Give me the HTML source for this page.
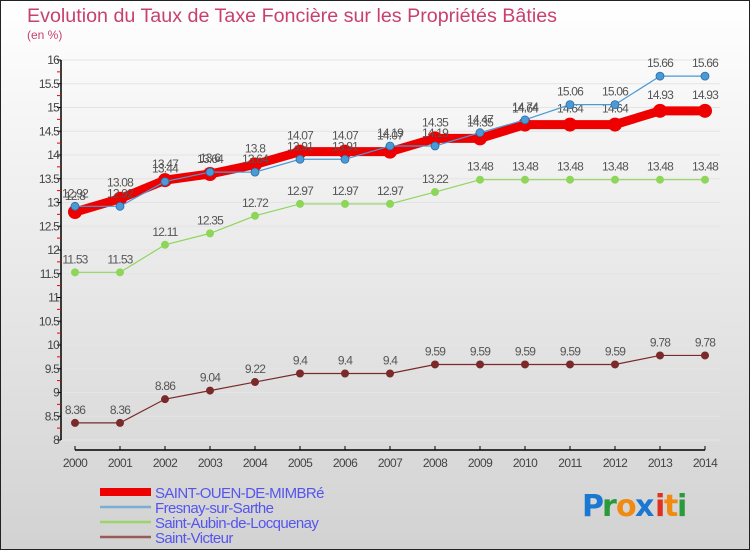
<!DOCTYPE html>
<html><head><meta charset="utf-8"><style>
html,body{margin:0;padding:0}
body{width:750px;height:550px;overflow:hidden;font-family:"Liberation Sans",sans-serif}
</style></head><body>
<svg id="chart" width="750" height="550" xmlns="http://www.w3.org/2000/svg">
<defs><linearGradient id="bg" x1="0" y1="0" x2="0" y2="1"><stop offset="0" stop-color="#ffffff"/><stop offset="1" stop-color="#d2d2d2"/></linearGradient></defs>
<rect x="0.5" y="0.5" width="749" height="549" fill="url(#bg)" stroke="#222" stroke-width="1"/>
<text x="27" y="22" font-size="19" fill="#c8416e" textLength="530" lengthAdjust="spacingAndGlyphs">Evolution du Taux de Taxe Foncière sur les Propriétés Bâties</text>
<text x="27" y="39" font-size="12" fill="#c8416e">(en %)</text>
<g id="axes"></g>
<g id="series"></g>
<g id="legend"></g>
<g font-size="30" font-weight="bold" font-family="'DejaVu Sans',sans-serif">
<text x="582" y="516" fill="#1a78d2">P</text><text x="602" y="516" fill="#2a9a3a">r</text><text x="616" y="516" fill="#f08a10">o</text><text x="635" y="516" fill="#1a78d2">x</text><text x="655" y="516" fill="#e03020">i</text><text x="664" y="516" fill="#f08a10">t</text><text x="677" y="516" fill="#2a9a3a">i</text>
</g>
</svg>
<script>
const years=[2000,2001,2002,2003,2004,2005,2006,2007,2008,2009,2010,2011,2012,2013,2014];
const yTicks=[8,8.5,9,9.5,10,10.5,11,11.5,12,12.5,13,13.5,14,14.5,15,15.5,16];
const seriesNames=["SAINT-OUEN-DE-MIMBRé","Fresnay-sur-Sarthe","Saint-Aubin-de-Locquenay","Saint-Victeur"];
const saintOuen=[12.8,13.08,13.47,13.6,13.8,14.07,14.07,14.07,14.35,14.35,14.64,14.64,14.64,14.93,14.93];
const fresnay=[12.92,12.92,13.44,13.64,13.64,13.91,13.91,14.19,14.19,14.47,14.74,15.06,15.06,15.66,15.66];
const saintAubin=[11.53,11.53,12.11,12.35,12.72,12.97,12.97,12.97,13.22,13.48,13.48,13.48,13.48,13.48,13.48];
const saintVicteur=[8.36,8.36,8.86,9.04,9.22,9.4,9.4,9.4,9.59,9.59,9.59,9.59,9.59,9.78,9.78];

const NS="http://www.w3.org/2000/svg";
function xs(i){return 75+i*45;}
function ys(v){return 440-(v-8)*47.5;}
function mk(tag,attrs,parent){const e=document.createElementNS(NS,tag);for(const k in attrs)e.setAttribute(k,attrs[k]);parent.appendChild(e);return e;}
const axes=document.getElementById('axes');
// grid
yTicks.forEach(v=>{
  const g=mk('line',{x1:61,x2:720,y1:ys(v),y2:ys(v),stroke:'#e4e4e4','stroke-width':1},axes);
  
  
});
const ya=mk('line',{x1:61,x2:61,y1:ys(16),y2:ys(8),stroke:'#000','stroke-width':1.5},axes);


yTicks.forEach(v=>{
  mk('line',{x1:57,x2:61,y1:ys(v),y2:ys(v),stroke:'#000'},axes);
  mk('line',{x1:57,x2:61,y1:ys(v)-11.9,y2:ys(v)-11.9,stroke:v<16?'#e00':'none'},axes);
  const t=mk('text',{x:59,y:ys(v)+4,'font-size':12,fill:'#444','text-anchor':'end','letter-spacing':'-0.8'},axes);
  
  
  t.textContent=String(v);
});
const xa=mk('line',{x1:75,x2:705,y1:450,y2:450,stroke:'#000','stroke-width':1.5},axes);


years.forEach((y,i)=>{
  mk('line',{x1:xs(i),x2:xs(i),y1:446,y2:450,stroke:'#000'},axes);
  const t=mk('text',{x:xs(i),y:467,'font-size':12,fill:'#444','text-anchor':'middle','letter-spacing':'-0.6'},axes);
  
  
  t.textContent=String(y);
});
const sg=document.getElementById('series');
const cfg=[
 {d:saintVicteur,c:'#7a2a2a',w:1.2,r:4,n:'saint-victeur'},
 {d:saintAubin,c:'#8ed65a',w:1.2,r:4,n:'saint-aubin'},
 {d:saintOuen,c:'#ee0000',w:9,r:7,n:'saint-ouen'},
 {d:fresnay,c:'#4a9ad6',w:1.2,r:4,n:'fresnay'}
];
cfg.forEach(s=>{
  const pts=s.d.map((v,i)=>xs(i)+','+ys(v)).join(' ');
  const l=mk('polyline',{points:pts,fill:'none',stroke:s.c,'stroke-width':s.w},sg);
  
  
  s.d.forEach((v,i)=>{
    const c=mk('circle',{cx:xs(i),cy:ys(v),r:s.r,fill:s.c,stroke:s.n==='fresnay'?'#2a6aa6':'none','stroke-width':0.8},sg);
    
    
    const t=mk('text',{x:xs(i),y:ys(v)-(s.r+5),'font-size':12,fill:'#555','text-anchor':'middle','letter-spacing':'-0.8'},sg);
    
    
    t.textContent=String(v);
  });
});
const lg=document.getElementById('legend');
const lc=['#ee0000','#7aaed6','#9ad66a','#9a5a5a'];
const lw=[8,2.5,2.5,2.5];
seriesNames.forEach((n,i)=>{
  const y=492+i*15;
  const l=mk('line',{x1:100,x2:151,y1:y,y2:y,stroke:lc[i],'stroke-width':lw[i]},lg);
  
  
  const t=mk('text',{x:155,y:y+6,'font-size':15,fill:'#5555ee','letter-spacing':'-0.6'},lg);
  
  
  t.textContent=n;
});
</script>
</body></html>
